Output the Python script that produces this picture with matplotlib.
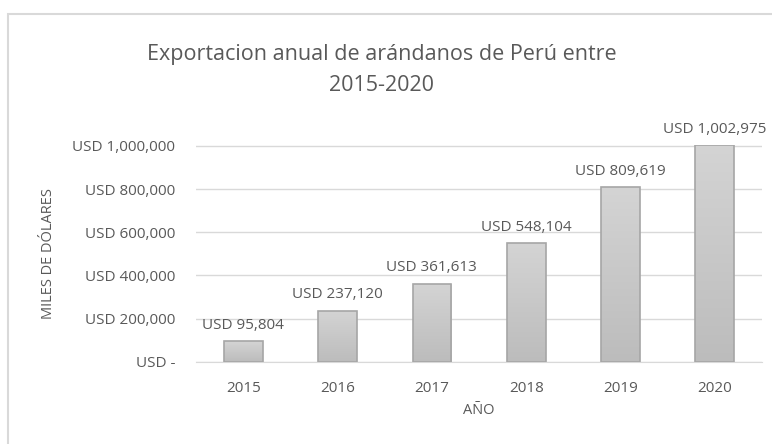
import numpy as np
import matplotlib.pyplot as plt
from matplotlib.patches import Rectangle
from matplotlib.colors import LinearSegmentedColormap
from matplotlib.ticker import FuncFormatter

# === data ===
years = ["2015", "2016", "2017", "2018", "2019", "2020"]
exports = [95804, 237120, 361613, 548104, 809619, 1002975]

TXT = "#595959"
plt.rcParams["font.family"] = ["Open Sans", "DejaVu Sans"]

fig = plt.figure(figsize=(7.72, 4.44), dpi=100)
ax = fig.add_axes([0.254, 0.185, 0.733, 0.488])

# outer chart border
fig.patches.append(Rectangle((8 / 772, -0.1), 1.2, 1 - 14 / 444 + 0.1,
                             transform=fig.transFigure, fill=False,
                             edgecolor="#d9d9d9", linewidth=1.5))

x = np.arange(len(years))
bars = ax.bar(x, exports, width=0.41, color="none", edgecolor="#a6a6a6",
              linewidth=1.2, zorder=3)

# vertical grey gradient inside each bar
grad = np.linspace(0, 1, 256).reshape(-1, 1)
cmap = LinearSegmentedColormap.from_list("g", ["#bcbcbc", "#d4d4d4"])
for b in bars:
    im = ax.imshow(grad, cmap=cmap, aspect="auto", origin="lower",
                   extent=[b.get_x(), b.get_x() + b.get_width(), 0, b.get_height()],
                   zorder=2)
    im.set_clip_path(b)

for xi, v in zip(x, exports):
    ax.annotate(f"USD {v:,}", (xi, v), xytext=(0, 6), textcoords="offset points",
                ha="center", va="bottom", color=TXT, fontsize=11, annotation_clip=False)

ax.set_xlim(-0.5, len(years) - 0.5)
ax.set_ylim(0, 1003000)
ax.set_yticks([0, 200000, 400000, 600000, 800000, 1000000])
ax.yaxis.set_major_formatter(FuncFormatter(lambda v, p: "USD -" if v == 0 else f"USD {v:,.0f}"))
ax.set_xticks(x)
ax.set_xticklabels(years)
ax.tick_params(length=0, colors=TXT, labelsize=11)
ax.tick_params(axis="y", pad=15)
ax.tick_params(axis="x", pad=14)
ax.grid(axis="y", color="#d9d9d9", linewidth=1, zorder=0)
ax.set_axisbelow(True)
for s in ["top", "right", "left"]:
    ax.spines[s].set_visible(False)
ax.spines["bottom"].set_color("#d9d9d9")

ax.set_xlabel("AÑO", color=TXT, fontsize=10.5, labelpad=5)
ax.set_ylabel("MILES DE DÓLARES", color=TXT, fontsize=10.5, labelpad=12)
fig.text(0.494, 0.843, "Exportacion anual de arándanos de Perú entre\n2015-2020",
         ha="center", va="center", color=TXT, fontsize=15.5, linespacing=1.65)

fig.savefig("out.png", dpi=100)
